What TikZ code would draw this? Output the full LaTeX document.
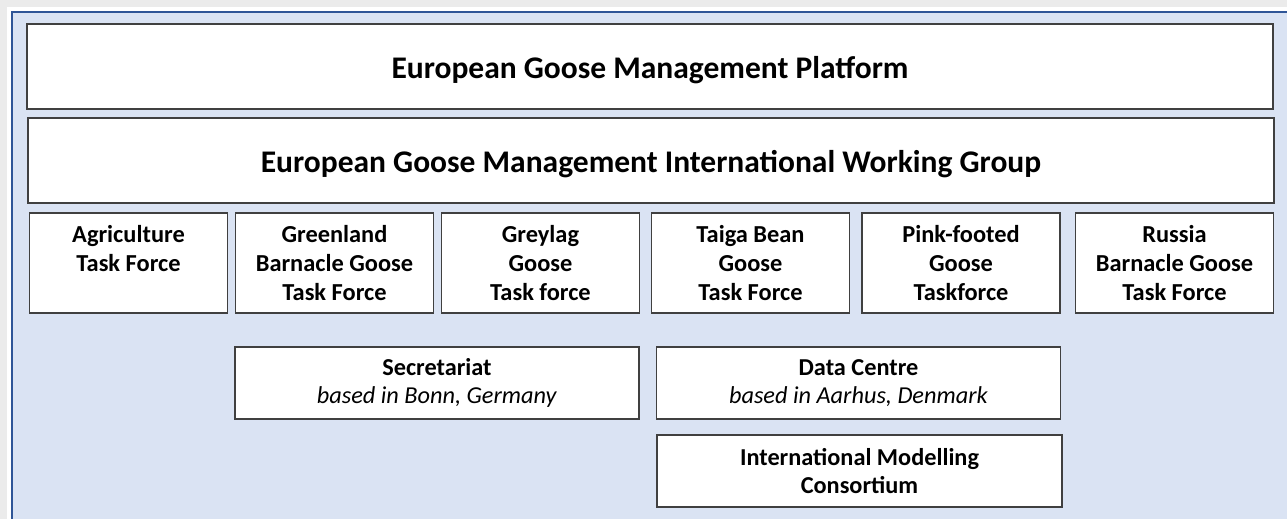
\documentclass[tikz,border=0pt]{standalone}
\usepackage{fontspec}
\setmainfont{Carlito}
\definecolor{outergrey}{HTML}{EBEBEB}
\definecolor{bgblue}{HTML}{DAE3F3}
\definecolor{frameblue}{HTML}{2F5597}
\definecolor{boxgrey}{HTML}{404040}
\begin{document}
\begin{tikzpicture}[x=1pt,y=-1pt,
  box/.style={draw=boxgrey, line width=1.6pt, fill=white, inner sep=0pt, text=black},
  bigbox/.style={box, minimum width=1246pt, minimum height=85pt, text height=29.5pt, text depth=6pt, font=\bfseries\fontsize{31.5}{38}\selectfont},
  taskbox/.style={box, align=center, minimum width=198pt, minimum height=100pt, font=\bfseries\fontsize{24.4}{29}\selectfont},
  lowbox/.style={box, align=center, minimum width=404pt, minimum height=72pt, font=\fontsize{24.3}{28}\selectfont}
]
\useasboundingbox (0,0) rectangle (1287,519);
\fill[outergrey] (0,0) rectangle (1287,519);
\fill[white] (7,7) rectangle (1287,519);
\fill[bgblue] (12,12) rectangle (1287,519);
\draw[frameblue, line width=2.2pt] (12,540) -- (12,12) -- (1310,12);

\node[bigbox] (platform) at (650,66.5) {European Goose Management Platform};
\node[bigbox] (iwg) at (651,160.5) {European Goose Management International Working Group};

\node[taskbox] (agri) at (128.5,263) {Agriculture\\Task Force\\\phantom{Task Force}};
\node[taskbox] (gbg) at (334.5,263) {Greenland\\Barnacle Goose\\Task Force};
\node[taskbox] (grey) at (540.5,263) {Greylag\\Goose\\Task force};
\node[taskbox] (taiga) at (750.5,263) {Taiga Bean\\Goose\\Task Force};
\node[taskbox] (pink) at (961,263) {Pink-footed\\Goose\\Taskforce};
\node[taskbox] (rbg) at (1174.5,263) {Russia\\Barnacle Goose\\Task Force};

\node[lowbox] (sec) at (437,383) {\textbf{Secretariat}\\\textit{based in Bonn, Germany}};
\node[lowbox] (data) at (858.5,383) {\textbf{Data Centre}\\\textit{based in Aarhus, Denmark}};
\node[lowbox, minimum width=405pt] (imc) at (859.5,471) {\textbf{International Modelling}\\\textbf{Consortium}};
\end{tikzpicture}
\end{document}
